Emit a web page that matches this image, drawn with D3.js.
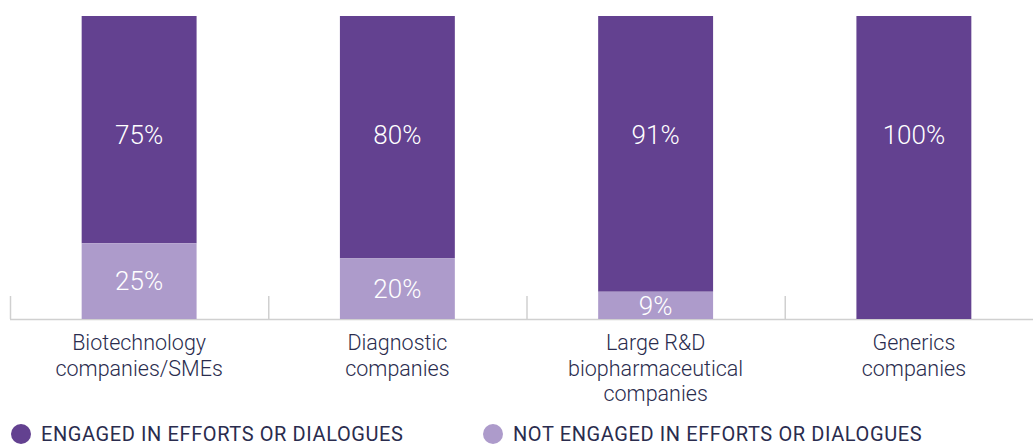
<!DOCTYPE html>
<html>
<head>
<meta charset="utf-8">
<script src="https://cdn.jsdelivr.net/npm/d3@7"></script>
<style>
  body { margin: 0; background: #fff; }
  svg { display: block; font-family: Roboto, sans-serif; }
</style>
</head>
<body>
<svg id="svg" width="1033" height="444"></svg>
<script>
// chart data
var categories = [
    ["Biotechnology", "companies/SMEs"],
    ["Diagnostic", "companies"],
    ["Large R&D", "biopharmaceutical", "companies"],
    ["Generics", "companies"]
];
var engaged = [75, 80, 91, 100];
var notEngaged = [25, 20, 9, 0];
var seriesNames = ["ENGAGED IN EFFORTS OR DIALOGUES", "NOT ENGAGED IN EFFORTS OR DIALOGUES"];
var colors = ["#634190", "#ad9bcb"];

function stacked_bars() {
    var svg = d3.select("svg"),
            width = 1033,
            top = 16,
            base = 319;

    var x = d3.scaleBand()
            .domain(d3.range(categories.length))
            .range([10, 1043])
            .paddingInner(0.555)
            .paddingOuter(0.2775);

    var y = d3.scaleLinear()
            .domain([0, 100])
            .range([base, top]);

    var rows = categories.map(function (c, i) {
        return {i: i, engaged: engaged[i], notEngaged: notEngaged[i]};
    });
    var stack = d3.stack().keys(["engaged", "notEngaged"]).order(d3.stackOrderReverse);
    var layers = stack(rows);

    // axis line and ticks at band boundaries
    var step = x.step();
    svg.append("line")
            .attr("x1", 10).attr("x2", width)
            .attr("y1", base + 0.5).attr("y2", base + 0.5)
            .attr("stroke", "#d0d0d0").attr("stroke-width", 1.5);
    svg.selectAll(".tick")
            .data(d3.range(categories.length))
            .enter().append("line")
            .attr("x1", function (d) { return 10 + d * step + 0.5; })
            .attr("x2", function (d) { return 10 + d * step + 0.5; })
            .attr("y1", base - 23).attr("y2", base)
            .attr("stroke", "#d0d0d0").attr("stroke-width", 1.5);

    var layer = svg.selectAll(".layer")
            .data(layers)
            .enter().append("g")
            .attr("fill", function (d) { return d.key === "engaged" ? colors[0] : colors[1]; });

    layer.selectAll("rect")
            .data(function (d) { return d; })
            .enter().append("rect")
            .attr("x", function (d) { return x(d.data.i); })
            .attr("width", x.bandwidth())
            .attr("y", function (d) { return y(d[1]); })
            .attr("height", function (d) { return y(d[0]) - y(d[1]); });

    // engaged labels sit at a common height, the others in the middle of their segment
    layer.selectAll("text")
            .data(function (d) {
                return d.filter(function (p) { return p[1] - p[0] > 0; })
                        .map(function (p) { p.key = d.key; return p; });
            })
            .enter().append("text")
            .attr("x", function (d) { return x(d.data.i) + x.bandwidth() / 2; })
            .attr("y", function (d) {
                return d.key === "engaged" ? y(61) : (y(d[0]) + y(d[1])) / 2;
            })
            .attr("dy", "0.36em")
            .attr("text-anchor", "middle")
            .attr("fill", "#fff")
            .style("font-size", "26px")
            .style("font-weight", 300)
            .text(function (d) { return (d[1] - d[0]) + "%"; });

    // category labels
    var lab = svg.selectAll(".cat")
            .data(categories)
            .enter().append("text")
            .attr("text-anchor", "middle")
            .attr("fill", "#2a2c4e")
            .style("font-size", "21.5px")
            .style("font-weight", 300);
    lab.selectAll("tspan")
            .data(function (d, i) { return d.map(function (t) { return {t: t, i: i}; }); })
            .enter().append("tspan")
            .attr("x", function (d) { return x(d.i) + x.bandwidth() / 2; })
            .attr("y", function (d, j) { return 350 + j * 25.5; })
            .text(function (d) { return d.t; });

    // legend
    var legendX = [21, 493];
    var leg = svg.selectAll(".legend")
            .data(seriesNames)
            .enter().append("g")
            .attr("transform", function (d, i) { return "translate(" + legendX[i] + ",434)"; });
    leg.append("circle")
            .attr("r", 10)
            .attr("fill", function (d, i) { return colors[i]; });
    leg.append("text")
            .attr("x", 20)
            .attr("y", 6.5)
            .attr("fill", "#2a2c4e")
            .style("font-size", "20px")
            .style("font-weight", 400)
            .style("letter-spacing", "0.6px")
            .text(function (d) { return d; });
}

stacked_bars();
</script>
</body>
</html>
